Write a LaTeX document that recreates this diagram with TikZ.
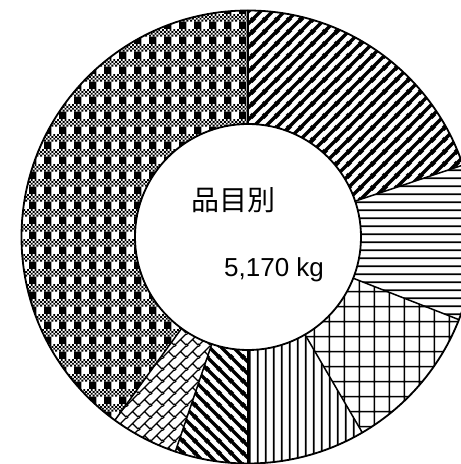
\documentclass[tikz,border=0pt]{standalone}
\usepackage{fontspec}
\setmainfont{Liberation Sans}
\newfontfamily\cjk{Noto Sans CJK JP}
\usetikzlibrary{patterns.meta}

\tikzdeclarepattern{name=wideup, type=colored,
  bounding box={(0pt,0pt) and (11.5pt,11.5pt)}, tile size={(11.5pt,11.5pt)},
  code={\tikzset{x=1pt,y=1pt}
    \draw[line width=3.5pt, black] (-11.5,0) -- (11.5,23) (-1,-1) -- (12.5,12.5) (0,-11.5) -- (23,11.5);}}
\tikzdeclarepattern{name=widedown, type=colored,
  bounding box={(0pt,0pt) and (11.5pt,11.5pt)}, tile size={(11.5pt,11.5pt)},
  code={\tikzset{x=1pt,y=1pt}
    \draw[line width=3.5pt, black] (-11.5,11.5) -- (11.5,-11.5) (-1,12.5) -- (12.5,-1) (0,23) -- (23,0);}}
\tikzdeclarepattern{name=horiz, type=colored,
  bounding box={(0pt,0pt) and (7.7pt,7.7pt)}, tile size={(7.7pt,7.7pt)},
  code={\tikzset{x=1pt,y=1pt}
    \draw[line width=1.8pt, black] (-1,3.85) -- (8.7,3.85);}}
\tikzdeclarepattern{name=vert, type=colored,
  bounding box={(0pt,0pt) and (7.7pt,7.7pt)}, tile size={(7.7pt,7.7pt)},
  code={\tikzset{x=1pt,y=1pt}
    \draw[line width=2pt, black] (3.85,-1) -- (3.85,8.7);}}
\tikzdeclarepattern{name=biggrid, type=colored,
  bounding box={(0pt,0pt) and (15.4pt,15.4pt)}, tile size={(15.4pt,15.4pt)},
  code={\tikzset{x=1pt,y=1pt}
    \draw[line width=1.6pt, black] (7.7,-1) -- (7.7,16.4) (-1,7.7) -- (16.4,7.7);}}
\tikzdeclarepattern{name=diagbrick, type=colored,
  bounding box={(0pt,0pt) and (11.5pt,11.5pt)}, tile size={(11.5pt,11.5pt)},
  code={\tikzset{x=1pt,y=1pt}
    \draw[line width=1.3pt, black] (-11.5,0) -- (11.5,23) (-1,-1) -- (12.5,12.5) (0,-11.5) -- (23,11.5)
      (5.75,5.75) -- (11.5,0);}}
\tikzdeclarepattern{name=plaid, type=colored,
  bounding box={(0pt,0pt) and (15.4pt,15.4pt)}, tile size={(15.4pt,15.4pt)},
  code={\tikzset{x=1pt,y=1pt}
    \fill[white] (0,0) rectangle (15.4,15.4);
    \fill[black] (0,0) rectangle (7.7,7.7);
    \foreach \j in {0,1,2,3}{\foreach \i in {0,2,4,6}{
      \fill[black] ({(\i+mod(\j,2))*1.925},{7.7+\j*1.925}) rectangle ++(1.925,1.925);}}}}

\newcommand{\donutpart}[3]{%
  \fill[pattern=#1] (#2:\outR) arc[start angle=#2, end angle=#3, radius=\outR]
    -- (#3:\inR) arc[start angle=#3, end angle=#2, radius=\inR] -- cycle;}

\begin{document}
\begin{tikzpicture}[x=1pt,y=1pt,
  rim/.style={line width=1.8pt, black},
  sep/.style={line width=1.5pt, black, line cap=round},
  label/.style={inner sep=0pt, text=black}]
\useasboundingbox (0,0) rectangle (461,464);
\fill[white] (0,0) rectangle (461,464);
\clip (0,0) rectangle (461,464);
\def\outR{226.5}
\def\inR{113}
\begin{scope}[shift={(248,227)}]
  \donutpart{wideup}{90}{18.5}
  \donutpart{horiz}{18.5}{-21.4}
  \donutpart{biggrid}{-21.4}{-59.7}
  \donutpart{vert}{-59.7}{-90}
  \donutpart{widedown}{-90}{-108.7}
  \donutpart{diagbrick}{-108.7}{-126}
  \donutpart{plaid}{-126}{-270}
  \foreach \a in {90,18.5,-21.4,-59.7,-90,-108.7,-126}
    \draw[sep] (\a:\inR) -- (\a:\outR);
  \draw[rim] (0,0) circle[radius=\outR];
  \draw[rim] (0,0) circle[radius=\inR];
\end{scope}
\node[label, anchor=base west, font=\cjk\fontsize{28}{32}\selectfont] (title) at (191.5,253.5) {品目別};
\node[label, anchor=base west, font=\fontsize{26}{30}\selectfont] (total) at (224,187.5) {5,170 kg};
\end{tikzpicture}
\end{document}
